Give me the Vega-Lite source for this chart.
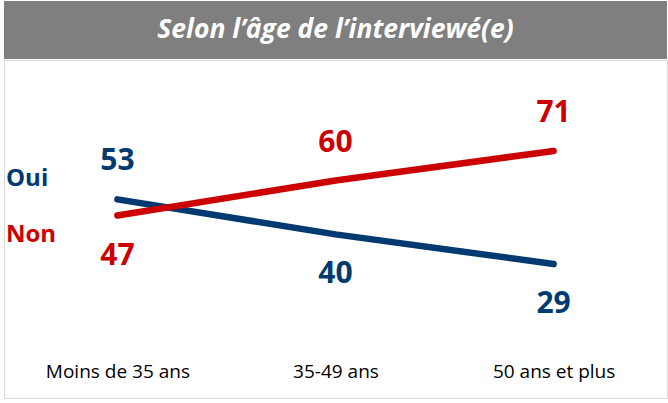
{
  "$schema": "https://vega.github.io/schema/vega-lite/v6.json",
  "background": "white",
  "padding": {"left": 3, "top": 1, "right": 0, "bottom": 0},
  "spacing": 0,
  "config": {"view": {"stroke": null}},
  "vconcat": [
    {
      "width": 663,
      "height": 58,
      "view": {"fill": "#7f7f7f", "stroke": null},
      "data": {"values": [{"titre": "Selon l’âge de l’interviewé(e)"}]},
      "mark": {"type": "text", "font": "Open Sans", "fontSize": 26.5, "fontWeight": "bold", "fontStyle": "italic", "color": "white", "baseline": "middle", "align": "center"},
      "encoding": {"text": {"field": "titre"}}
    },
    {
      "width": 663,
      "height": 338,
      "view": {"stroke": "#d9d9d9", "strokeWidth": 1},
      "data": {"values": [
        {"age": "Moins de 35 ans", "serie": "Oui", "value": 53},
        {"age": "35-49 ans", "serie": "Oui", "value": 40},
        {"age": "50 ans et plus", "serie": "Oui", "value": 29},
        {"age": "Moins de 35 ans", "serie": "Non", "value": 47},
        {"age": "35-49 ans", "serie": "Non", "value": 60},
        {"age": "50 ans et plus", "serie": "Non", "value": 71}
      ]},
      "encoding": {
        "x": {
          "field": "age", "type": "ordinal",
          "sort": ["Moins de 35 ans", "35-49 ans", "50 ans et plus"],
          "scale": {"type": "point", "padding": 0.52},
          "axis": {"orient": "bottom", "offset": -38, "domain": false, "ticks": false, "labelPadding": 2, "title": null, "labelFontSize": 19, "labelFont": "Open Sans", "labelColor": "#000000", "labelAngle": 0, "labelBaseline": "top"}
        },
        "y": {"field": "value", "type": "quantitative", "scale": {"domain": [-20.8, 104.8]}, "axis": null},
        "color": {
          "field": "serie", "type": "nominal",
          "scale": {"domain": ["Oui", "Non"], "range": ["#003a70", "#cc0000"]},
          "legend": {
            "title": null, "orient": "none", "legendX": 4, "legendY": 166,
            "symbolSize": 0, "symbolOpacity": 0, "symbolStrokeWidth": 0,
            "labelOffset": -26, "labelFont": "Open Sans", "labelFontSize": 24, "labelFontWeight": "bold",
            "rowPadding": 32, "padding": 0,
            "encode": {"labels": {"update": {"fill": {"signal": "datum.value === 'Oui' ? '#003a70' : '#cc0000'"}}}}
          }
        }
      },
      "layer": [
        {"mark": {"type": "line", "strokeWidth": 6.5, "strokeCap": "round"}},
        {
          "transform": [{"filter": "(datum.serie == 'Oui' && datum.age == 'Moins de 35 ans') || (datum.serie == 'Non' && datum.age != 'Moins de 35 ans')"}],
          "mark": {"type": "text", "dy": -38, "fontSize": 30, "fontWeight": "bold", "font": "Open Sans", "baseline": "middle"},
          "encoding": {"text": {"field": "value", "type": "quantitative"}}
        },
        {
          "transform": [{"filter": "!((datum.serie == 'Oui' && datum.age == 'Moins de 35 ans') || (datum.serie == 'Non' && datum.age != 'Moins de 35 ans'))"}],
          "mark": {"type": "text", "dy": 40, "fontSize": 30, "fontWeight": "bold", "font": "Open Sans", "baseline": "middle"},
          "encoding": {"text": {"field": "value", "type": "quantitative"}}
        }
      ]
    }
  ]
}
